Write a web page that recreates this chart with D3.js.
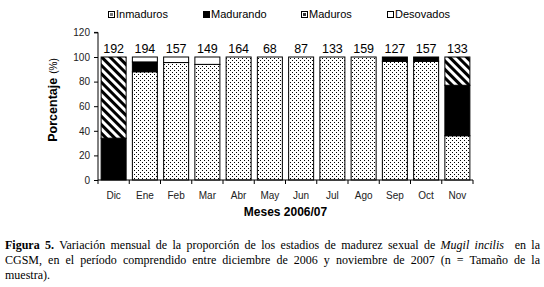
<!DOCTYPE html>
<html>
<head>
<meta charset="utf-8">
<script src="https://cdn.jsdelivr.net/npm/d3@7"></script>
<style>
  body { margin: 0; background: #fff; }
  #wrap { position: relative; width: 544px; height: 287px; overflow: hidden; }
  svg { position: absolute; left: 0; top: 0; }
  .cap { position: absolute; left: 5px; width: 535px; font-family: "Liberation Serif", "Times New Roman", serif;
         font-size: 12px; line-height: 15px; color: #000; white-space: nowrap; }
  .cap.j { text-align: justify; text-align-last: justify; white-space: normal; }
</style>
</head>
<body>
<div id="wrap"></div>
<script>
// months and sample sizes
const months = ["Dic", "Ene", "Feb", "Mar", "Abr", "May", "Jun", "Jul", "Ago", "Sep", "Oct", "Nov"]
const counts = [192, 194, 157, 149, 164, 68, 87, 133, 159, 127, 157, 133]

// percentages per stage, in stacking order (bottom to top)
const maduros    = [0, 88, 95.5, 94, 100, 100, 100, 100, 100, 96.5, 96.5, 36]
const madurando  = [34, 8, 0, 0, 0, 0, 0, 0, 0, 3.5, 3.5, 41]
const inmaduros  = [66, 0, 0, 0, 0, 0, 0, 0, 0, 0, 0, 23]
const desovados  = [0, 4, 4.5, 6, 0, 0, 0, 0, 0, 0, 0, 0]

const yTicks = [0, 20, 40, 60, 80, 100, 120]

// inner mark of the tiny legend swatch (matches the scanned look)
const series = [
  {name: "Maduros", values: maduros, fill: "url(#dots)", icon: "#fff", mark: "#333"},
  {name: "Madurando", values: madurando, fill: "#000", icon: "#000", mark: null},
  {name: "Inmaduros", values: inmaduros, fill: "url(#stripes)", icon: "#fff", mark: "#777"},
  {name: "Desovados", values: desovados, fill: "#fff", icon: "#fff", mark: null}
]
const legendOrder = ["Inmaduros", "Madurando", "Maduros", "Desovados"]
const legendX = [108, 203, 301, 387]

const width = 544, height = 287
const wrap = d3.select("#wrap")
const svg = wrap.append("svg").attr("width", width).attr("height", height)

const defs = svg.append("defs")
const dots = defs.append("pattern").attr("id", "dots")
  .attr("patternUnits", "userSpaceOnUse").attr("width", 4).attr("height", 4)
dots.append("rect").attr("width", 4).attr("height", 4).attr("fill", "#fff")
dots.append("rect").attr("x", 0).attr("y", 0).attr("width", 1).attr("height", 1).attr("fill", "#000")
dots.append("rect").attr("x", 2).attr("y", 2).attr("width", 1).attr("height", 1).attr("fill", "#000")

const stripes = defs.append("pattern").attr("id", "stripes")
  .attr("patternUnits", "userSpaceOnUse").attr("width", 6).attr("height", 6)
  .attr("patternTransform", "rotate(-45)")
stripes.append("rect").attr("width", 6).attr("height", 6).attr("fill", "#fff")
stripes.append("rect").attr("width", 3).attr("height", 6).attr("fill", "#000")

const x = d3.scaleBand().domain(months).range([98, 473]).paddingInner(0.2).paddingOuter(0.1)
const y = d3.scaleLinear().domain([0, 120]).range([180, 32.4])

// stack the series
const rows = months.map((m, i) => {
  const r = {month: m}
  series.forEach(s => r[s.name] = s.values[i])
  return r
})
const stacked = d3.stack().keys(series.map(s => s.name))(rows)

const g = svg.append("g")
g.selectAll(".layer")
  .data(stacked)
  .join("g")
  .attr("class", "layer")
  .attr("fill", (d, i) => series[i].fill)
  .selectAll("rect")
  .data(d => d.filter(v => v[1] - v[0] > 0))
  .join("rect")
  .attr("x", d => x(d.data.month))
  .attr("width", x.bandwidth())
  .attr("y", d => y(d[1]))
  .attr("height", d => y(d[0]) - y(d[1]))
  .attr("stroke", "#000")
  .attr("stroke-width", 1)

// count labels
g.selectAll(".count")
  .data(months)
  .join("text")
  .attr("class", "count")
  .attr("x", d => x(d) + x.bandwidth() / 2)
  .attr("y", y(100) - 4)
  .attr("text-anchor", "middle")
  .attr("font-family", "Liberation Sans, Arial, sans-serif")
  .attr("font-size", 12.5)
  .text((d, i) => counts[i])

// y axis
const yAxis = svg.append("g")
  .attr("transform", "translate(98,0)")
  .call(d3.axisLeft(y).tickValues(yTicks).tickSize(4).tickPadding(4))
yAxis.selectAll("text").attr("font-family", "Liberation Sans, Arial, sans-serif").attr("font-size", 10).attr("fill", "#222")
yAxis.select(".domain").attr("d", `M-4,${y(120)}H0V${y(0)}`)

// x axis
const xAxis = svg.append("g")
  .attr("transform", `translate(0,${y(0)})`)
  .call(d3.axisBottom(x).tickSize(0).tickPadding(12))
xAxis.select(".domain").attr("d", "M98,0H473")
xAxis.selectAll("text").attr("font-family", "Liberation Sans, Arial, sans-serif").attr("font-size", 10).attr("fill", "#222")
xAxis.selectAll(".bound")
  .data(d3.range(months.length + 1))
  .join("line")
  .attr("class", "bound")
  .attr("x1", i => 98 + i * x.step()).attr("x2", i => 98 + i * x.step())
  .attr("y1", 0).attr("y2", 4)
  .attr("stroke", "#000")

// axis titles
const yt = svg.append("text")
  .attr("transform", "translate(57,100) rotate(-90)")
  .attr("text-anchor", "middle")
  .attr("font-family", "Liberation Sans, Arial, sans-serif")
yt.append("tspan").attr("font-weight", "bold").attr("font-size", 12.5).text("Porcentaje")
yt.append("tspan").attr("font-size", 10).attr("dx", 4).text("(%)")

svg.append("text")
  .attr("x", 285.5).attr("y", 216)
  .attr("text-anchor", "middle")
  .attr("font-family", "Liberation Sans, Arial, sans-serif")
  .attr("font-weight", "bold").attr("font-size", 12)
  .text("Meses 2006/07")

// legend
const lg = svg.selectAll(".leg")
  .data(legendOrder.map(n => series.find(s => s.name === n)))
  .join("g")
  .attr("class", "leg")
  .attr("transform", (d, i) => `translate(${legendX[i]},0)`)
lg.append("rect")
  .attr("x", 0.5).attr("y", 11.5).attr("width", 6).attr("height", 6)
  .attr("fill", d => d.icon)
  .attr("stroke", "#000")
lg.filter(d => d.mark).append("rect")
  .attr("x", 2).attr("y", 13).attr("width", 3).attr("height", 3)
  .attr("fill", d => d.mark)
lg.append("text")
  .attr("x", 8).attr("y", 18)
  .attr("font-family", "Liberation Sans, Arial, sans-serif")
  .attr("font-size", 11)
  .text(d => d.name)

// caption
wrap.append("div").attr("class", "cap j").style("top", "238px")
  .html('<b>Figura 5.</b> Variación mensual de la proporción de los estadios de madurez sexual de <i>Mugil incilis</i>&nbsp; en la')
wrap.append("div").attr("class", "cap j").style("top", "253px")
  .text("CGSM, en el período comprendido entre diciembre de 2006 y noviembre de 2007 (n = Tamaño de la")
wrap.append("div").attr("class", "cap").style("top", "268px")
  .text("muestra).")
</script>
</body>
</html>
